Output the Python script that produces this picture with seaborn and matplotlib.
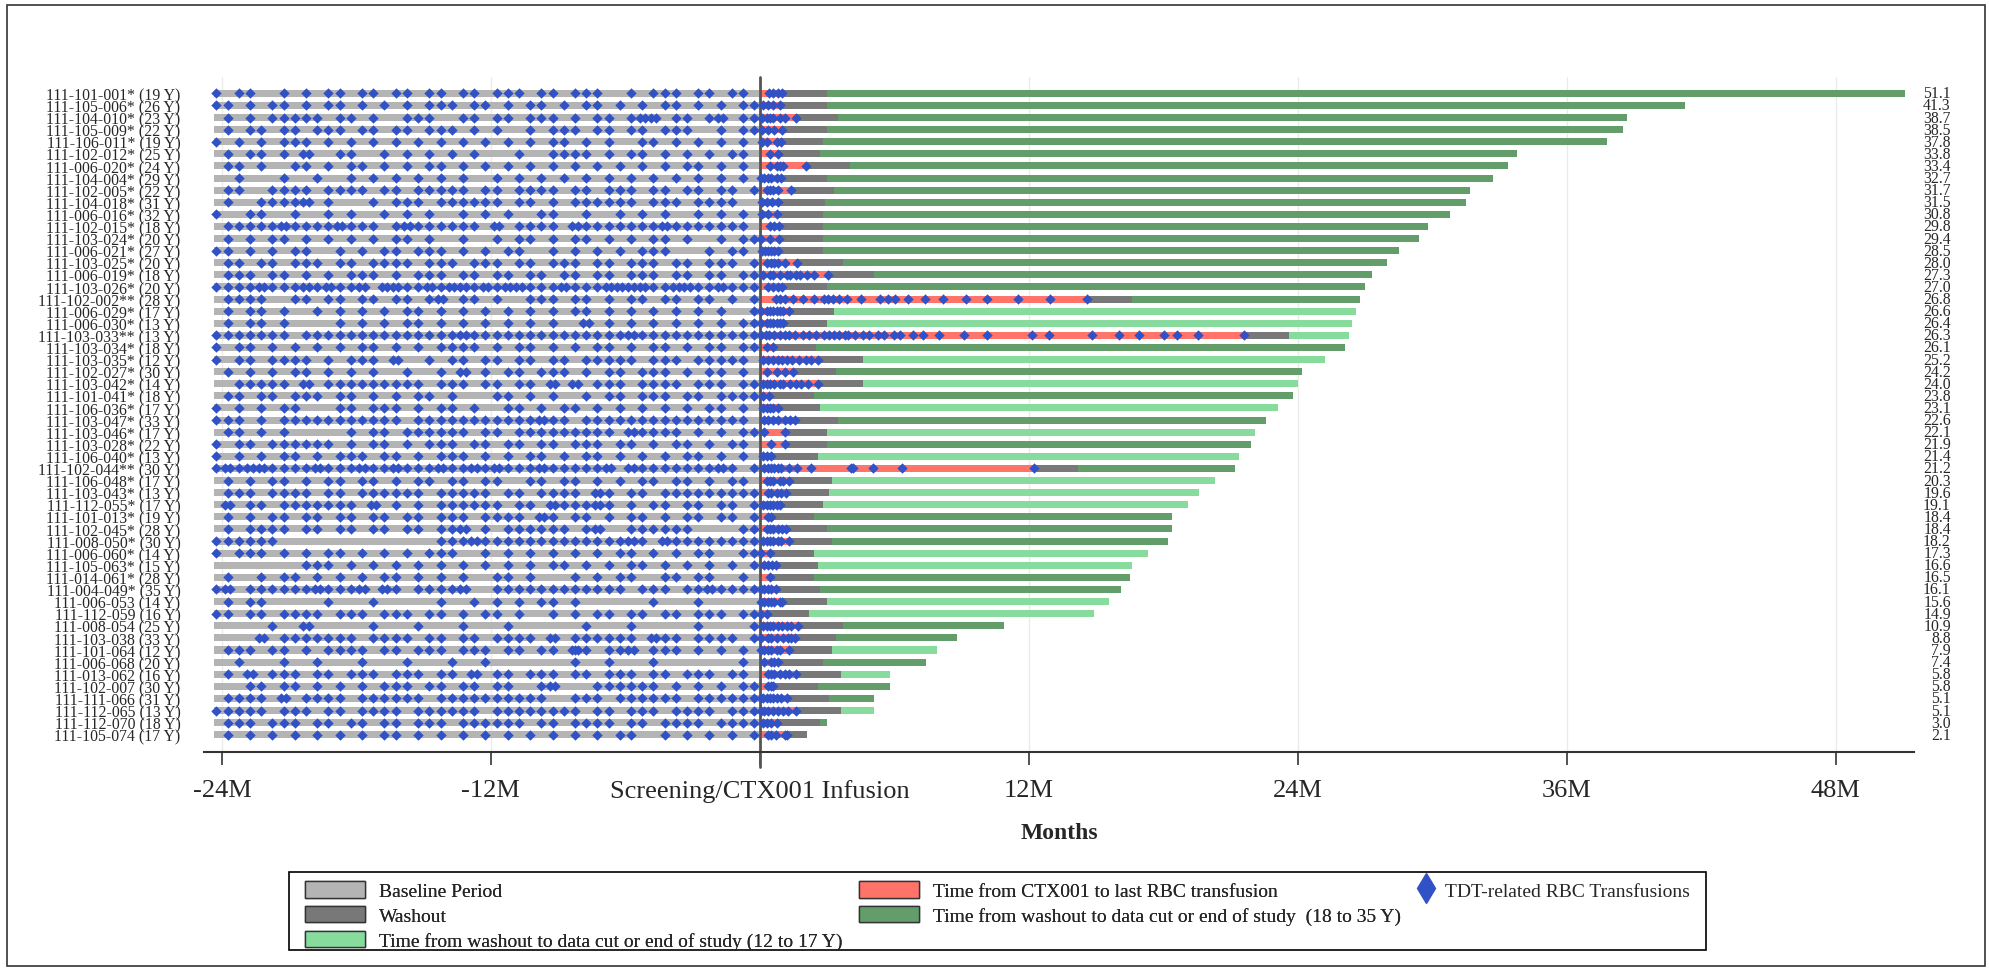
import matplotlib
matplotlib.use("Agg")

import matplotlib.pyplot as plt
import matplotlib.transforms as mtransforms
import numpy as np
import pandas as pd
import seaborn as sns
from matplotlib.lines import Line2D
from matplotlib.patches import Patch, Rectangle

# --- data (months relative to CTX001 infusion) ---
patient_ids = [
    "111-101-001*", "111-105-006*", "111-104-010*", "111-105-009*", "111-106-011*",
    "111-102-012*", "111-006-020*", "111-104-004*", "111-102-005*", "111-104-018*",
    "111-006-016*", "111-102-015*", "111-103-024*", "111-006-021*", "111-103-025*",
    "111-006-019*", "111-103-026*", "111-102-002**", "111-006-029*", "111-006-030*",
    "111-103-033**", "111-103-034*", "111-103-035*", "111-102-027*", "111-103-042*",
    "111-101-041*", "111-106-036*", "111-103-047*", "111-103-046*", "111-103-028*",
    "111-106-040*", "111-102-044**", "111-106-048*", "111-103-043*", "111-112-055*",
    "111-101-013*", "111-102-045*", "111-008-050*", "111-006-060*", "111-105-063*",
    "111-014-061*", "111-004-049*", "111-006-053", "111-112-059", "111-008-054",
    "111-103-038", "111-101-064", "111-006-068", "111-013-062", "111-102-007",
    "111-111-066", "111-112-065", "111-112-070", "111-105-074",
]
ages = [19, 26, 23, 22, 19, 25, 24, 29, 22, 31, 32, 18, 20, 27, 20, 18, 20, 28, 17, 13,
        13, 18, 12, 30, 14, 18, 17, 33, 17, 22, 13, 30, 17, 13, 17, 19, 28, 30, 14, 15,
        28, 35, 14, 16, 25, 33, 12, 20, 16, 30, 31, 13, 18, 17]
months_on_study = [51.1, 41.3, 38.7, 38.5, 37.8, 33.8, 33.4, 32.7, 31.7, 31.5, 30.8, 29.8,
                   29.4, 28.5, 28.0, 27.3, 27.0, 26.8, 26.6, 26.4, 26.3, 26.1, 25.2, 24.2,
                   24.0, 23.8, 23.1, 22.6, 22.1, 21.9, 21.4, 21.2, 20.3, 19.6, 19.1, 18.4,
                   18.4, 18.2, 17.3, 16.6, 16.5, 16.1, 15.6, 14.9, 10.9, 8.8, 7.9, 7.4,
                   5.8, 5.8, 5.1, 5.1, 3.0, 2.1]
washout_end = [3.0, 3.0, 3.5, 3.0, 2.8, 2.7, 4.0, 3.0, 3.3, 2.9, 2.8, 2.8, 2.8, 2.8, 3.7,
               5.1, 3.0, 16.6, 3.3, 3.0, 23.6, 2.5, 4.6, 3.4, 4.6, 2.4, 2.7, 3.5, 3.0, 3.0,
               2.6, 14.2, 3.2, 3.1, 2.8, 2.4, 3.0, 3.2, 2.4, 2.6, 2.4, 2.7, 3.0, 2.2, 3.7,
               3.4, 3.2, 2.8, 3.6, 2.6, 3.1, 3.6, 2.7, 2.1]
baseline_start = -24.35

# RBC transfusions after infusion (months)
post_tx = [
    [0.4, 0.6, 0.8, 1.0], [0.15, 0.35, 0.6, 0.9], [0.1, 0.3, 0.45, 0.6, 0.9, 1.1, 1.6],
    [0.1, 0.35, 0.65, 1.0], [0.1, 0.3, 0.75, 0.95], [0.45, 0.8],
    [0.45, 0.75, 0.9, 1.05, 2.05], [0.05, 0.2, 0.35, 0.5, 0.75, 0.95],
    [0.3, 0.45, 0.6, 0.8, 1.4], [0.1, 0.3, 0.55, 0.8], [0.1, 0.35, 0.75],
    [0.45, 0.65, 0.85], [0.05, 0.45, 0.85], [0.1, 0.25, 0.35, 0.5, 0.65, 0.8],
    [0.3, 0.5, 0.65, 0.8, 1.1, 1.65],
    [0.15, 0.45, 0.6, 0.9, 1.2, 1.35, 1.6, 1.8, 2.1, 2.4, 3.05],
    [0.35, 0.6, 0.8, 1.0],
    [0.73, 0.88, 1.1, 1.47, 1.92, 2.41, 2.88, 3.03, 3.26, 3.51, 3.88, 4.52, 5.37, 5.71,
     6.01, 6.63, 7.37, 8.19, 9.2, 10.12, 11.5, 12.96, 14.59],
    [0.05, 0.3, 0.45, 0.6, 0.75, 0.9, 1.05, 1.3], [0.05, 0.3, 0.45, 0.6, 0.75, 0.9, 1.05],
    [0.06, 0.28, 0.43, 0.65, 0.88, 1.1, 1.28, 1.59, 1.92, 2.21, 2.51, 2.88, 3.1, 3.33,
     3.55, 3.78, 3.93, 4.25, 4.59, 4.89, 5.26, 5.53, 6.0, 6.27, 6.82, 7.27, 8.0, 9.13,
     10.12, 12.15, 12.9, 14.82, 16.01, 16.93, 18.05, 18.6, 19.57, 21.6],
    [0.3, 0.6], [0.15, 0.35, 0.6, 0.8, 1.0, 1.2, 1.45, 1.75, 2.05, 2.3, 2.6],
    [0.3, 0.75, 1.1, 1.5], [0.15, 0.3, 0.45, 0.65, 0.9, 1.05, 1.35, 1.6, 1.85, 2.15, 2.6],
    [0.15, 0.4], [0.15, 0.3, 0.45, 0.6, 0.8], [0.2, 0.35, 0.6, 0.8, 1.1, 1.35, 1.55],
    [0.2, 1.1], [0.5, 1.1], [0.15, 0.3, 0.5],
    [0.2, 0.35, 0.5, 0.65, 0.8, 0.95, 1.3, 1.65, 2.3, 4.07, 4.15, 5.07, 6.35, 12.25],
    [0.3, 0.45, 0.6, 0.9, 1.05, 1.3], [0.35, 0.5, 0.75, 0.95, 1.15],
    [0.15, 0.3, 0.45, 0.6, 0.75, 0.9], [0.35, 0.5], [0.3, 0.45, 0.6, 0.8, 1.0, 1.15],
    [0.15, 0.3, 0.45, 0.6, 0.8, 0.95, 1.3], [0.05, 0.45], [0.2, 0.35, 0.55, 0.7],
    [0.45], [0.05, 0.2, 0.35, 0.5, 0.7], [0.05, 0.2, 0.35, 0.5, 0.65, 0.9, 1.0],
    [0.05, 0.3], [0.15, 0.3, 0.45, 0.6, 0.8, 1.0, 1.2, 1.4, 1.7],
    [0.05, 0.35, 0.5, 0.75, 1.05, 1.25, 1.4, 1.55], [0.05, 0.2, 0.35, 0.5, 0.75, 0.9, 1.3],
    [0.2, 0.5, 0.65, 0.8], [0.35, 0.5, 0.65, 0.9, 1.1, 1.3, 1.6], [0.35, 0.5, 0.6],
    [0.05, 0.15, 0.3, 0.45, 0.6, 0.75, 0.95, 1.2],
    [0.05, 0.2, 0.35, 0.6, 0.8, 1.05, 1.25, 1.6], [0.15, 0.3, 0.5, 0.75],
    [0.35, 0.5, 0.7, 1.1, 1.2],
]

# baseline transfusions, as half-month period index (0 = month -24.5 to -24)
baseline_tx_halfmonth = [
    [0, 2, 3, 6, 8, 10, 11, 13, 14, 16, 17, 19, 20, 22, 23, 25, 26, 27, 29, 30, 32, 33, 34, 37, 39, 40, 41, 43, 44, 46, 47],
    [0, 1, 3, 5, 6, 8, 10, 11, 13, 15, 17, 19, 20, 21, 23, 24, 26, 28, 29, 31, 33, 34, 36, 38, 40, 41, 43, 45, 47, 48],
    [1, 3, 5, 6, 7, 8, 9, 11, 12, 14, 17, 18, 19, 22, 23, 25, 26, 28, 29, 30, 32, 34, 35, 37, 38, 38, 39, 39, 41, 42, 44, 45, 45, 47, 48],
    [1, 3, 4, 6, 7, 9, 10, 11, 13, 14, 16, 17, 19, 20, 21, 23, 25, 28, 30, 31, 32, 34, 35, 37, 38, 40, 41, 42, 45, 47, 48],
    [0, 2, 4, 6, 7, 8, 10, 12, 14, 16, 18, 20, 22, 24, 26, 28, 30, 31, 33, 35, 38, 39, 41, 43, 45, 47],
    [1, 3, 4, 6, 8, 8, 11, 12, 15, 17, 19, 21, 23, 27, 30, 31, 32, 33, 35, 37, 38, 40, 42, 44, 46, 47],
    [1, 2, 4, 7, 8, 10, 12, 13, 15, 17, 19, 20, 22, 24, 26, 28, 30, 32, 34, 36, 38, 40, 42, 43, 45, 47],
    [2, 6, 9, 12, 14, 16, 18, 20, 22, 25, 27, 29, 31, 33, 35, 37, 39, 41, 43, 45, 47],
    [1, 2, 5, 6, 7, 8, 10, 11, 12, 13, 15, 16, 18, 19, 20, 21, 22, 24, 25, 27, 28, 29, 30, 32, 33, 35, 36, 37, 39, 40, 42, 43, 45, 46, 48],
    [1, 4, 5, 6, 7, 8, 8, 10, 14, 16, 17, 18, 20, 21, 22, 23, 24, 25, 27, 28, 30, 32, 33, 34, 35, 36, 37, 39, 40, 41, 43, 44, 45, 46],
    [0, 3, 4, 7, 10, 12, 15, 17, 19, 22, 24, 26, 29, 30, 33, 36, 38, 40, 43, 45, 47],
    [1, 2, 3, 4, 5, 6, 6, 7, 8, 9, 10, 11, 11, 12, 13, 14, 16, 17, 17, 18, 19, 20, 21, 22, 23, 25, 25, 27, 28, 29, 30, 32, 32, 33, 34, 35, 36, 37, 38, 39, 40, 40, 41, 42, 43, 44, 45, 46, 47],
    [1, 3, 5, 6, 8, 10, 12, 14, 16, 17, 19, 22, 25, 27, 28, 30, 32, 33, 35, 37, 39, 40, 42, 45, 47, 48],
    [0, 1, 3, 5, 7, 8, 11, 13, 15, 16, 18, 19, 20, 22, 24, 26, 27, 30, 32, 34, 36, 38, 39, 40, 44, 46, 47],
    [1, 2, 4, 5, 7, 8, 9, 11, 12, 14, 15, 16, 17, 19, 20, 21, 23, 24, 25, 27, 28, 30, 31, 32, 34, 35, 37, 38, 39, 41, 42, 44, 45, 46, 48],
    [1, 2, 3, 5, 6, 8, 10, 12, 13, 14, 16, 18, 19, 20, 22, 23, 25, 26, 28, 29, 31, 32, 34, 35, 37, 38, 39, 41, 42, 44, 45, 47, 48],
    [0, 1, 2, 3, 4, 4, 5, 6, 7, 8, 8, 9, 10, 10, 11, 12, 13, 13, 15, 15, 16, 16, 17, 18, 19, 19, 20, 21, 21, 22, 22, 23, 24, 24, 25, 26, 26, 27, 27, 28, 29, 30, 31, 31, 32, 33, 34, 35, 35, 36, 36, 37, 37, 38, 38, 39, 40, 41, 41, 42, 42, 43, 44, 45, 45, 46, 47, 48],
    [1, 2, 3, 4, 7, 8, 10, 11, 13, 14, 16, 17, 19, 20, 20, 22, 23, 25, 28, 29, 30, 32, 33, 35, 37, 38, 40, 41, 43, 44, 46, 48],
    [1, 3, 4, 6, 9, 11, 13, 15, 17, 18, 20, 22, 24, 26, 28, 30, 32, 33, 35, 37, 39, 41, 43, 45, 48],
    [1, 3, 4, 6, 11, 13, 15, 17, 18, 20, 22, 24, 26, 28, 30, 33, 33, 35, 37, 39, 41, 43, 45, 47, 48],
    [0, 1, 2, 3, 4, 5, 6, 8, 9, 10, 11, 12, 13, 14, 15, 16, 17, 18, 19, 20, 21, 22, 22, 23, 24, 25, 26, 27, 28, 29, 30, 31, 32, 33, 34, 35, 36, 37, 37, 38, 39, 40, 41, 42, 43, 44, 45, 46, 47, 48],
    [0, 2, 3, 5, 7, 9, 11, 13, 14, 16, 18, 20, 21, 22, 23, 25, 27, 28, 30, 32, 34, 35, 37, 39, 40, 42, 44, 45, 47, 48],
    [0, 2, 3, 5, 6, 7, 8, 10, 12, 13, 14, 16, 16, 19, 21, 22, 24, 25, 27, 28, 30, 31, 33, 34, 35, 36, 37, 39, 40, 41, 43, 44, 45, 46, 47],
    [1, 3, 5, 7, 8, 10, 12, 14, 17, 20, 22, 22, 24, 26, 27, 29, 30, 31, 33, 35, 36, 38, 39, 40, 42, 44, 45, 47],
    [2, 3, 4, 5, 6, 8, 8, 10, 11, 12, 13, 14, 15, 16, 17, 18, 20, 21, 22, 24, 25, 27, 28, 30, 30, 32, 32, 34, 35, 36, 38, 39, 40, 41, 43, 44, 45, 47, 48],
    [1, 2, 4, 5, 7, 8, 9, 11, 12, 14, 16, 18, 19, 21, 25, 26, 28, 30, 33, 35, 36, 38, 39, 40, 42, 43, 45, 46, 47, 48],
    [0, 2, 4, 6, 7, 11, 12, 14, 15, 16, 18, 20, 21, 23, 26, 27, 29, 31, 32, 34, 36, 38, 40, 42, 44, 45, 47],
    [0, 1, 2, 4, 6, 7, 8, 9, 10, 11, 12, 13, 14, 15, 16, 18, 19, 20, 21, 22, 23, 24, 25, 26, 27, 28, 29, 29, 30, 31, 33, 34, 35, 36, 37, 38, 39, 40, 41, 42, 43, 44, 45, 46, 47],
    [1, 2, 4, 6, 12, 14, 15, 17, 18, 19, 20, 21, 22, 24, 25, 27, 28, 29, 30, 31, 32, 33, 34, 35, 37, 37, 38, 39, 40, 41, 43, 45, 47, 48],
    [0, 2, 3, 5, 6, 7, 8, 9, 10, 12, 14, 15, 17, 19, 20, 21, 23, 24, 26, 27, 29, 30, 32, 33, 34, 36, 37, 39, 41, 42, 44, 46, 47],
    [0, 2, 4, 6, 7, 9, 11, 12, 13, 15, 16, 18, 20, 21, 22, 24, 26, 28, 29, 31, 33, 34, 36, 38, 40, 42, 43, 45, 47],
    [0, 1, 1, 2, 3, 3, 4, 4, 5, 6, 7, 8, 9, 9, 10, 11, 12, 13, 13, 14, 15, 16, 16, 17, 18, 19, 20, 20, 21, 22, 23, 23, 24, 25, 25, 26, 27, 28, 29, 29, 30, 31, 32, 33, 34, 35, 35, 37, 37, 38, 39, 40, 41, 42, 43, 44, 45, 45, 46, 48],
    [1, 3, 5, 6, 8, 10, 11, 13, 14, 16, 18, 19, 21, 22, 24, 25, 28, 29, 31, 32, 34, 36, 38, 39, 41, 42, 44, 46, 47],
    [1, 2, 3, 5, 6, 7, 8, 10, 11, 13, 14, 15, 16, 17, 18, 20, 21, 22, 23, 24, 26, 27, 29, 30, 31, 32, 34, 34, 35, 37, 38, 40, 41, 42, 43, 44, 45, 46, 47, 48],
    [1, 1, 3, 4, 6, 7, 8, 9, 10, 11, 12, 14, 14, 16, 18, 20, 21, 22, 23, 24, 25, 27, 28, 30, 30, 31, 32, 33, 34, 34, 35, 37, 39, 40, 42, 43, 45, 46, 48],
    [1, 3, 5, 6, 8, 9, 11, 12, 14, 15, 17, 18, 20, 21, 22, 24, 25, 26, 27, 29, 29, 30, 32, 33, 35, 37, 38, 40, 42, 43, 45, 46, 48],
    [1, 3, 4, 5, 6, 8, 9, 11, 12, 14, 15, 17, 18, 20, 21, 22, 22, 24, 26, 27, 28, 29, 30, 31, 33, 34, 34, 37, 38, 39, 40, 41, 42, 47, 48],
    [0, 1, 2, 3, 4, 5, 20, 21, 22, 23, 23, 24, 25, 26, 27, 28, 29, 30, 31, 32, 33, 34, 35, 36, 37, 37, 38, 40, 40, 41, 42, 43, 44, 45, 46, 47, 48],
    [0, 2, 3, 4, 6, 8, 10, 11, 13, 15, 17, 19, 20, 21, 24, 26, 28, 30, 32, 34, 36, 37, 39, 41, 43, 44, 47, 48],
    [8, 9, 10, 12, 14, 16, 18, 20, 22, 24, 26, 28, 30, 31, 33, 35, 37, 38, 40, 42, 44, 46, 48],
    [1, 4, 6, 7, 9, 11, 13, 15, 16, 18, 20, 22, 25, 26, 28, 32, 34, 36, 37, 40, 41, 43, 44, 47],
    [0, 1, 1, 3, 4, 5, 6, 7, 8, 9, 9, 10, 11, 12, 13, 13, 15, 15, 16, 18, 19, 20, 21, 22, 22, 25, 26, 27, 28, 29, 30, 31, 32, 33, 34, 35, 36, 38, 39, 40, 42, 43, 44, 44, 45, 46, 47, 48],
    [1, 3, 4, 10, 14, 20, 23, 25, 27, 29, 30, 32, 39, 43],
    [0, 1, 3, 4, 6, 7, 8, 9, 11, 12, 13, 15, 16, 17, 19, 20, 22, 24, 25, 27, 30, 32, 34, 35, 37, 38, 40, 41, 43, 44, 45, 47, 48],
    [5, 8, 8, 14, 18, 22, 26, 33, 37, 43, 48],
    [4, 4, 6, 7, 8, 9, 10, 11, 12, 14, 15, 16, 17, 19, 20, 22, 23, 25, 26, 27, 28, 30, 30, 32, 33, 34, 35, 36, 37, 39, 39, 40, 41, 43, 44, 45, 46, 48],
    [1, 2, 3, 5, 6, 8, 10, 11, 12, 13, 15, 16, 18, 19, 20, 22, 23, 24, 26, 27, 29, 30, 32, 32, 32, 33, 35, 36, 37, 37, 39, 40, 41, 43, 45, 47],
    [2, 6, 9, 13, 17, 21, 24, 32, 35, 39, 47],
    [1, 3, 3, 5, 6, 7, 9, 10, 12, 13, 14, 16, 17, 18, 20, 21, 23, 23, 25, 26, 28, 29, 30, 32, 33, 35, 36, 37, 39, 40, 42, 43, 44, 46, 47],
    [3, 4, 6, 7, 9, 11, 13, 15, 16, 17, 19, 20, 22, 23, 25, 26, 29, 30, 30, 34, 35, 36, 37, 38, 39, 41, 43, 45, 47, 48],
    [1, 2, 3, 4, 6, 6, 8, 9, 10, 11, 13, 14, 15, 16, 17, 18, 20, 21, 22, 23, 24, 25, 26, 27, 28, 29, 32, 33, 34, 36, 37, 38, 39, 40, 41, 43, 44, 45, 46, 47, 48],
    [0, 1, 2, 3, 4, 6, 7, 8, 10, 11, 13, 14, 15, 16, 18, 19, 20, 21, 22, 23, 25, 26, 27, 28, 29, 30, 31, 32, 34, 35, 37, 38, 39, 41, 42, 43, 44, 46, 47, 48],
    [1, 2, 3, 5, 6, 7, 9, 10, 12, 13, 15, 16, 18, 19, 20, 22, 23, 24, 25, 26, 27, 29, 30, 32, 33, 34, 35, 37, 38, 40, 41, 42, 43, 45, 46, 47, 48],
    [1, 3, 5, 7, 9, 11, 13, 15, 16, 18, 20, 22, 24, 26, 28, 30, 32, 34, 36, 37, 40, 42, 44, 46, 48],
]

tick_months = [-24, -12, 0, 12, 24, 36, 48]
tick_labels = ["-24M", "-12M", "Screening/CTX001 Infusion", "12M", "24M", "36M", "48M"]

BASELINE = "#b4b4b4"
WASHOUT = "#787878"
RED = "#ff7369"
DARK_GREEN = "#639e6a"
LIGHT_GREEN = "#86db9d"
BLUE = "#3152c6"

sns.set_theme(style="white")
plt.rcParams["font.family"] = ["Liberation Serif", "DejaVu Serif"]

labels = [f"{pid} ({age} Y)" for pid, age in zip(patient_ids, ages)]
n = len(labels)
seg = pd.DataFrame({
    "row": np.arange(n),
    "total": months_on_study,
    "washout": washout_end,
    "red": [max(t) for t in post_tx],
    "baseline": baseline_start,
    "young": [a <= 17 for a in ages],
})

# transfusion markers: spread the ones sharing a half-month slightly
tx_rows, tx_month = [], []
for r, periods in enumerate(baseline_tx_halfmonth):
    for k, c in pd.Series(periods).value_counts().items():
        for off in (np.linspace(-0.12, 0.12, c) if c > 1 else [0.0]):
            tx_rows.append(r)
            tx_month.append(-24.25 + 0.5 * k + off)
for r, times in enumerate(post_tx):
    tx_rows += [r] * len(times)
    tx_month += times
tx = pd.DataFrame({"row": tx_rows, "month": tx_month})

fig = plt.figure(figsize=(19.89, 9.70), dpi=100)
ax = fig.add_axes([0.1026, 0.2237, 0.8597, 0.6959])

bar_w = 0.58
for x in tick_months:
    if x != 0:
        ax.axvline(x, color="#ebebeb", lw=1, zorder=0)

common = dict(orient="h", native_scale=True, width=bar_w, saturation=1,
              linewidth=0, errorbar=None, ax=ax)
sns.barplot(data=seg[seg.young], x="total", y="row", color=LIGHT_GREEN, **common)
sns.barplot(data=seg[~seg.young], x="total", y="row", color=DARK_GREEN, **common)
sns.barplot(data=seg, x="washout", y="row", color=WASHOUT, **common)
sns.barplot(data=seg, x="red", y="row", color=RED, **common)
sns.barplot(data=seg, x="baseline", y="row", color=BASELINE, **common)

ax.axvline(0, ymin=-0.022, ymax=1, color="#555555", lw=2, clip_on=False, zorder=2.5)

sns.scatterplot(data=tx, x="month", y="row", marker="D", s=28, color=BLUE,
                linewidth=0, legend=False, ax=ax, zorder=3)

ax.set_xlim(-24.8, 51.5)
ax.set_ylim(n - 1 + 1.43, -1.35)

ax.set_yticks(np.arange(n))
ax.set_yticklabels(labels, fontsize=11.3)
ax.tick_params(axis="y", length=0, pad=17)
ax.set_xticks(tick_months)
ax.set_xticklabels(tick_labels, fontsize=19)
ax.tick_params(axis="x", direction="out", length=9.5, width=1.2, color="#333333",
               pad=10, bottom=True)
for side in ["top", "left", "right"]:
    ax.spines[side].set_visible(False)
ax.spines["bottom"].set_color("#333333")
ax.spines["bottom"].set_linewidth(1.5)
ax.set_ylabel("")
ax.set_xlabel("Months", fontsize=17, fontweight="bold", labelpad=14)

trans = mtransforms.blended_transform_factory(ax.transAxes, ax.transData)
for r, v in enumerate(months_on_study):
    ax.text(1.0215, r, f"{v:.1f}", transform=trans, ha="right", va="center", fontsize=11.3)

# legend: frame drawn by hand, two frameless legends inside it
W, H = 1989, 970
fig.add_artist(Rectangle((289 / W, 1 - 951 / H), (1706 - 289) / W, (951 - 873) / H,
                         transform=fig.transFigure, fill=False, edgecolor="black", lw=1.2))
edge = "#333333"
bar_handles = [
    Patch(facecolor=BASELINE, edgecolor=edge),
    Patch(facecolor=WASHOUT, edgecolor=edge),
    Patch(facecolor=LIGHT_GREEN, edgecolor=edge),
    Patch(facecolor=RED, edgecolor=edge),
    Patch(facecolor=DARK_GREEN, edgecolor=edge),
    Patch(facecolor="none", edgecolor="none"),
]
bar_labels = [
    "Baseline Period",
    "Washout",
    "Time from washout to data cut or end of study (12 to 17 Y)",
    "Time from CTX001 to last RBC transfusion",
    "Time from washout to data cut or end of study  (18 to 35 Y)",
    "",
]
leg = fig.legend(bar_handles, bar_labels, ncol=2, loc="upper left",
                 bbox_to_anchor=(305 / W, 1 - 882 / H), frameon=False, fontsize=14,
                 handlelength=3.1, handleheight=0.93, handletextpad=0.7,
                 columnspacing=0.85, labelspacing=0.3, borderpad=0, borderaxespad=0)
fig.add_artist(leg)
fig.legend([Line2D([], [], marker="d", color=BLUE, linestyle="none", markersize=15)],
           ["TDT-related RBC Transfusions"], loc="upper left",
           bbox_to_anchor=(1416 / W, 1 - 882 / H), frameon=False, fontsize=14,
           handlelength=1.0, handleheight=0.93, handletextpad=0.5,
           borderpad=0, borderaxespad=0)

fig.add_artist(Rectangle((7 / W, 0.003), 1978 / W, 0.991, transform=fig.transFigure,
                         fill=False, edgecolor="#333333", lw=1.2))

fig.savefig("out.png", dpi=100)
